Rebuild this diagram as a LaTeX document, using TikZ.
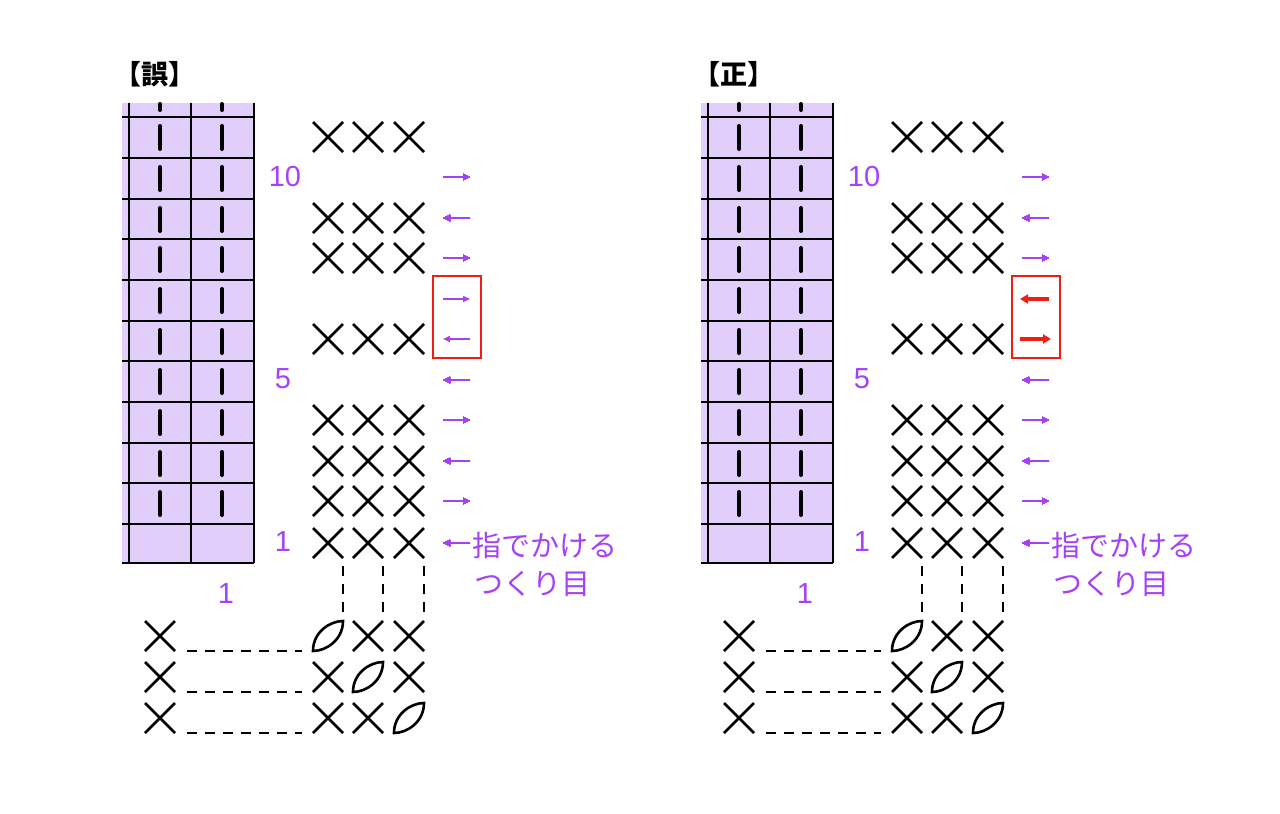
\documentclass[tikz,border=0pt]{standalone}
\usepackage{fontspec}
\setmainfont{Noto Sans CJK JP}
\newfontfamily\numfont{Liberation Sans}
\usetikzlibrary{arrows.meta}
\definecolor{knitpurple}{RGB}{166,66,245}
\definecolor{knitfill}{RGB}{226,206,250}
\definecolor{knitred}{RGB}{240,30,20}

% cross stitch and leaf stitch
\newcommand{\xst}[2]{\draw[stitch] (#1-15,#2-15) -- (#1+15,#2+15) (#1-15,#2+15) -- (#1+15,#2-15);}
\newcommand{\leafst}[2]{\draw[stitch] (#1-15,#2+15) .. controls (#1-15,#2-4) and (#1+2,#2-15) .. (#1+15,#2-15)
  .. controls (#1+15,#2+4) and (#1-2,#2+15) .. cycle;}

\begin{document}
\begin{tikzpicture}[x=1pt,y=-1pt,
    stitch/.style={line width=2.6pt},
    gridline/.style={line width=1.4pt},
    bar/.style={line width=4pt, line cap=round},
    dashline/.style={line width=2.8pt, dash pattern=on 10pt off 8pt},
    numlabel/.style={text=knitpurple, font=\numfont\fontsize{29}{29}\selectfont, inner sep=0},
    smallarrow/.style={-{Triangle[length=7pt,width=6pt]}, knitpurple, line width=1.6pt},
    bigarrow/.style={-{Triangle[length=8pt,width=9pt]}, knitred, line width=3.5pt},
    redbox/.style={draw=knitred, line width=1.6pt},
]
\useasboundingbox (0,0) rectangle (1280,814);

\foreach \off/\title/\wrong in {0/誤/1, 579/正/0}{
  \begin{scope}[xshift=\off pt]
    % title
    \node[font=\fontsize{27}{27}\selectfont\bfseries, inner sep=0] (title) at (155,74) {【\title】};
    % grid
    \fill[knitfill] (122,103) rectangle (254,563);
    \foreach \y in {117,158,199,239,280,321,361,402,443,483,524,563}
      \draw[gridline] (122,\y) -- (254,\y);
    \foreach \x in {129,191,254}
      \draw[gridline] (\x,103) -- (\x,563);
    \foreach \x in {160,222}{
      \draw[bar] (\x,104) -- (\x,110);
      \foreach \y in {117,158,199,239,280,321,361,402,443,483}
        \draw[bar] (\x,\y+9) -- (\x,\y+32);
    }
    % numbers
    \node[numlabel] (n10) at (285,177) {10};
    \node[numlabel] (n5) at (283,379) {5};
    \node[numlabel] (n1) at (283,542) {1};
    \node[numlabel] (c1) at (226,594) {1};
    % stitch rows
    \foreach \y in {137,218,258,339,420,461,501,543}
      \foreach \x in {328,368,409}
        \xst{\x}{\y}
    % row arrows
    \foreach \y/\d in {177/1,218/0,258/1,380/0,420/1,461/0,501/1,543/0}{
      \ifnum\d=1 \draw[smallarrow] (443,\y) -- (470,\y);
      \else \draw[smallarrow] (470,\y) -- (443,\y); \fi
    }
    \draw[redbox] (433,276) rectangle (481,358);
    \ifnum\wrong=1
      \draw[smallarrow] (443,299) -- (470,299);
      \draw[smallarrow] (470,339) -- (443,339);
    \else
      \draw[bigarrow] (470,299) -- (441,299);
      \draw[bigarrow] (441,339) -- (472,339);
    \fi
    \node[text=knitpurple, font=\fontsize{29}{29}\selectfont, anchor=west, inner sep=0] (cast) at (472,545) {指でかける};
    \node[text=knitpurple, font=\fontsize{29}{29}\selectfont, anchor=west, inner sep=0] (cast2) at (474,584) {つくり目};
    % bottom part
    \foreach \x in {343,383,424}
      \draw[dashline] (\x,566) -- (\x,620);
    \foreach \y/\k in {636/1,677/2,718/3}{
      \xst{160}{\y}
      \draw[dashline] (187,\y+15) -- (302,\y+15);
      \foreach \x [count=\i] in {328,368,409}{
        \ifnum\i=\k \leafst{\x}{\y} \else \xst{\x}{\y} \fi
      }
    }
  \end{scope}
}
\end{tikzpicture}
\end{document}
